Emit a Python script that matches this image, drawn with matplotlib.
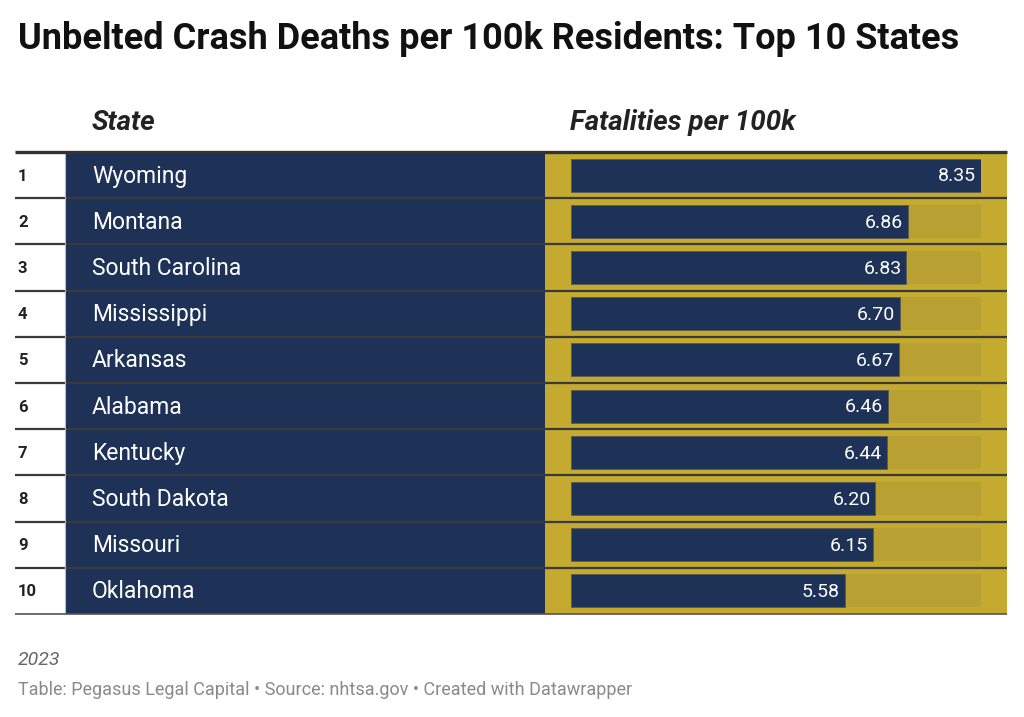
import matplotlib
matplotlib.use("Agg")
import matplotlib.pyplot as plt
from matplotlib.patches import Rectangle

plt.rcParams['font.family'] = ['Roboto', 'DejaVu Sans']

# data
ranks = ["1", "2", "3", "4", "5", "6", "7", "8", "9", "10"]
states = ["Wyoming", "Montana", "South Carolina", "Mississippi", "Arkansas",
          "Alabama", "Kentucky", "South Dakota", "Missouri", "Oklahoma"]
values = [8.35, 6.86, 6.83, 6.70, 6.67, 6.46, 6.44, 6.20, 6.15, 5.58]
labels = ["%.2f" % v for v in values]

title = "Unbelted Crash Deaths per 100k Residents: Top 10 States"
col_headers = ["State", "Fatalities per 100k"]
note = "2023"
source = "Table: Pegasus Legal Capital \u2022 Source: nhtsa.gov \u2022 Created with Datawrapper"

navy = "#1e3157"
gold = "#c4aa2f"
track = "#b8a032"

W, H = 1024, 717
fig = plt.figure(figsize=(W / 100, H / 100), dpi=100)

# main axes in pixel coordinates
ax = fig.add_axes([0, 0, 1, 1])
ax.set_xlim(0, W)
ax.set_ylim(H, 0)
ax.axis("off")

top, bottom = 152, 614
row_h = (bottom - top) / len(states)
left, x_navy, x_gold, right = 15, 65, 545, 1007

for i in range(len(states)):
    y0 = top + i * row_h
    ax.add_patch(Rectangle((x_navy, y0), x_gold - x_navy, row_h, color=navy, lw=0))
    ax.add_patch(Rectangle((x_gold, y0), right - x_gold, row_h, color=gold, lw=0))
    yc = y0 + row_h / 2 + 1
    ax.text(18, yc, ranks[i], fontsize=12, fontweight="bold", color="#222222",
            va="center", ha="left")
    ax.text(92, yc, states[i], fontsize=16.5, color="white", va="center", ha="left")
    if i > 0:
        ax.plot([left, right], [y0, y0], color="#3a3a3a", lw=1.6, solid_capstyle="butt")

ax.plot([x_navy, x_navy], [top, bottom], color="#bbbbbb", lw=0.8)
ax.plot([left, right], [top, top], color="#333333", lw=2.4, solid_capstyle="butt")
ax.plot([left, right], [bottom, bottom], color="#555555", lw=1.2, solid_capstyle="butt")

ax.text(18, 39, title, fontsize=26, fontweight="bold", color="#111111",
        va="center", ha="left")
ax.text(92, 122, col_headers[0], fontsize=20, fontweight="bold", style="italic",
        color="#222222", va="center", ha="left")
ax.text(570, 122, col_headers[1], fontsize=20, fontweight="bold", style="italic",
        color="#222222", va="center", ha="left")
ax.text(18, 660, note, fontsize=14, style="italic", color="#666666",
        va="center", ha="left")
ax.text(18, 690, source, fontsize=13, color="#8a8a8a", va="center", ha="left")

# bar axes
bx0, bx1 = 571, 981
bax = fig.add_axes([bx0 / W, (H - bottom) / H, (bx1 - bx0) / W, (bottom - top) / H])
bax.set_xlim(0, max(values))
bax.set_ylim(len(states) - 0.5, -0.5)
bax.axis("off")
ypos = list(range(len(states)))
bar_h = 33 / row_h
bax.barh(ypos, [max(values)] * len(values), height=bar_h, color=track, lw=0)
bax.barh(ypos, values, height=bar_h, color=navy, edgecolor="#5a5a55", lw=0.6)
for y, v, lab in zip(ypos, values, labels):
    bax.text(v - 0.1, y + 0.03, lab, fontsize=14, color="white", va="center", ha="right")

fig.savefig("out.png", dpi=100)
